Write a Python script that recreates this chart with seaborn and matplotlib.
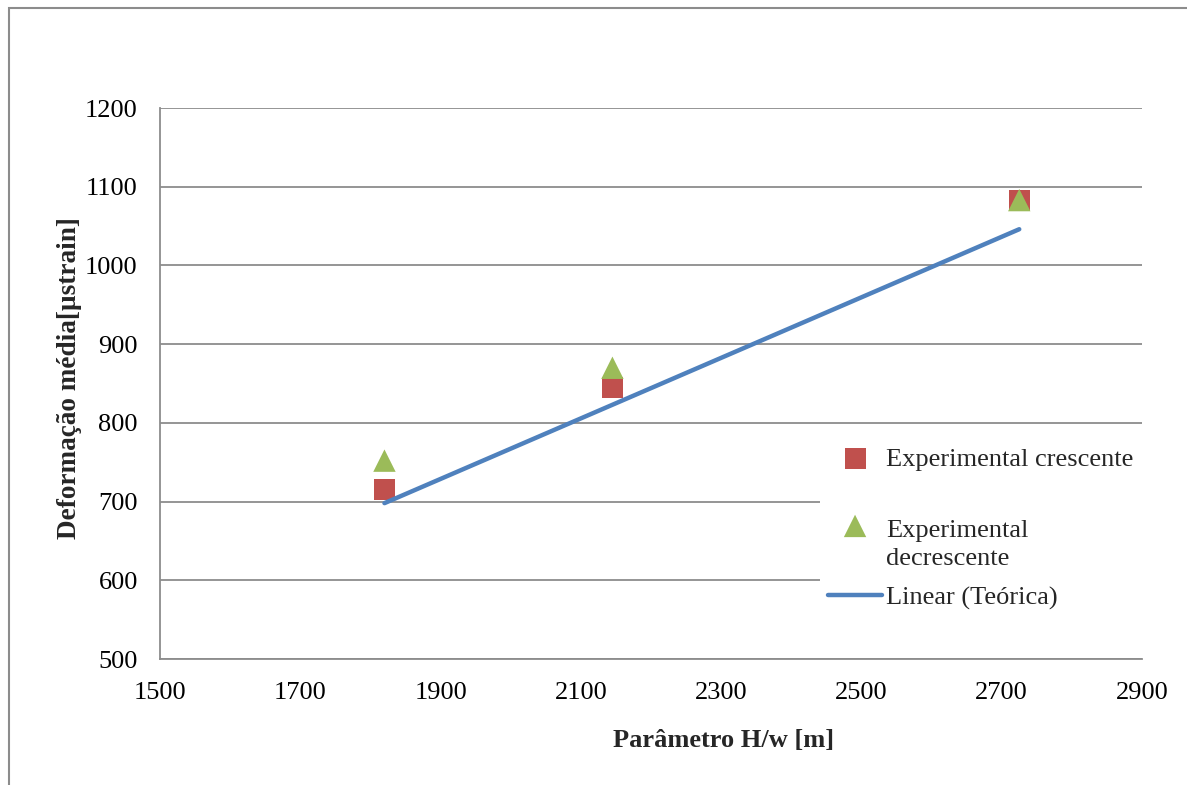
import matplotlib
matplotlib.use("Agg")
import matplotlib.pyplot as plt
from matplotlib.patches import Rectangle
from matplotlib.legend_handler import HandlerPathCollection
import seaborn as sns
import pandas as pd

# Measured mean strain vs. H/w parameter
hw_exp = [1820, 2145, 2725]
strain_crescente = [715, 845, 1083]
strain_decrescente = [752, 870, 1083]

# Theoretical linear relation
hw_theory = [1820, 2725]
strain_theory = [698, 1046]

x_ticks = [1500, 1700, 1900, 2100, 2300, 2500, 2700, 2900]
y_ticks = [500, 600, 700, 800, 900, 1000, 1100, 1200]

W, H = 1187, 785
FS = 19

sns.set_theme(style="white")
plt.rcParams["font.family"] = ["Liberation Serif", "DejaVu Serif"]

fig = plt.figure(figsize=(W / 100, H / 100), dpi=100)
ax = fig.add_axes([160 / W, 1 - 659 / H, (1142 - 160) / W, (659 - 108) / H])

grid_color = "#8c8c8c"
ax.set_axisbelow(True)
ax.yaxis.grid(True, color=grid_color, linewidth=1.3)
ax.xaxis.grid(False)

df_c = pd.DataFrame({"x": hw_exp, "y": strain_crescente})
df_d = pd.DataFrame({"x": hw_exp, "y": strain_decrescente})
df_t = pd.DataFrame({"x": hw_theory, "y": strain_theory})

sns.scatterplot(data=df_c, x="x", y="y", ax=ax, marker="s", s=230,
                color="#C0504D", edgecolor="none", zorder=3, legend=False)
sns.scatterplot(data=df_d, x="x", y="y", ax=ax, marker="^", s=260,
                color="#9BBB59", edgecolor="none", zorder=4, legend=False)
sns.lineplot(data=df_t, x="x", y="y", ax=ax, color="#4F81BD", linewidth=3.2,
             zorder=5, legend=False)

sq_handle, tri_handle = ax.collections[0], ax.collections[1]
line_handle = ax.lines[0]

ax.set_xlim(1500, 2900)
ax.set_ylim(500, 1200)
ax.set_xticks(x_ticks)
ax.set_yticks(y_ticks)
ax.tick_params(axis="both", length=0, labelsize=FS, colors="black")
ax.tick_params(axis="x", pad=16.5)
ax.tick_params(axis="y", pad=16)

for side in ["top", "right"]:
    ax.spines[side].set_visible(False)
for side in ["left", "bottom"]:
    ax.spines[side].set_color(grid_color)
    ax.spines[side].set_linewidth(1.3)

ax.set_xlabel("")
ax.set_ylabel("Deformação média[µstrain]", fontsize=19.6, fontweight="bold", labelpad=2)
ax.yaxis.label.set_y((659 - 378) / (659 - 108))
fig.text(724 / W, 1 - 740 / H, "Parâmetro H/w [m]", fontsize=FS,
         fontweight="bold", ha="center", va="center")

# White panel behind the legend entries (hides the gridlines there)
ax.add_patch(Rectangle((820 / W, 1 - 622 / H), (1142 - 820) / W, (622 - 432) / H,
                       transform=fig.transFigure, facecolor="white",
                       edgecolor="none", zorder=1))

common = dict(frameon=False, fontsize=FS, handlelength=2.05, handletextpad=0.15,
              borderpad=0, borderaxespad=0, bbox_transform=fig.transFigure)

leg_a = ax.legend([sq_handle], ["Experimental crescente"], loc="center left",
                  bbox_to_anchor=(828 / W, 1 - 459 / H), **common)
ax.add_artist(leg_a)

leg_b = ax.legend([tri_handle, line_handle], ["Experimental\ndecrescente", "Linear (Teórica)"],
                  loc="center left", bbox_to_anchor=(828 / W, 1 - 565 / H),
                  labelspacing=0.6,
                  handler_map={tri_handle: HandlerPathCollection(yoffsets=[1.5])},
                  **common)
for t in leg_b.get_texts():
    t.set_linespacing(1.38)

# Outer chart border
fig.patches.append(Rectangle((9 / W, -0.05), 1.2, 1 - 8 / H + 0.05,
                             transform=fig.transFigure, fill=False,
                             edgecolor="#8c8c8c", linewidth=1.5))

fig.savefig("out.png", dpi=100)
